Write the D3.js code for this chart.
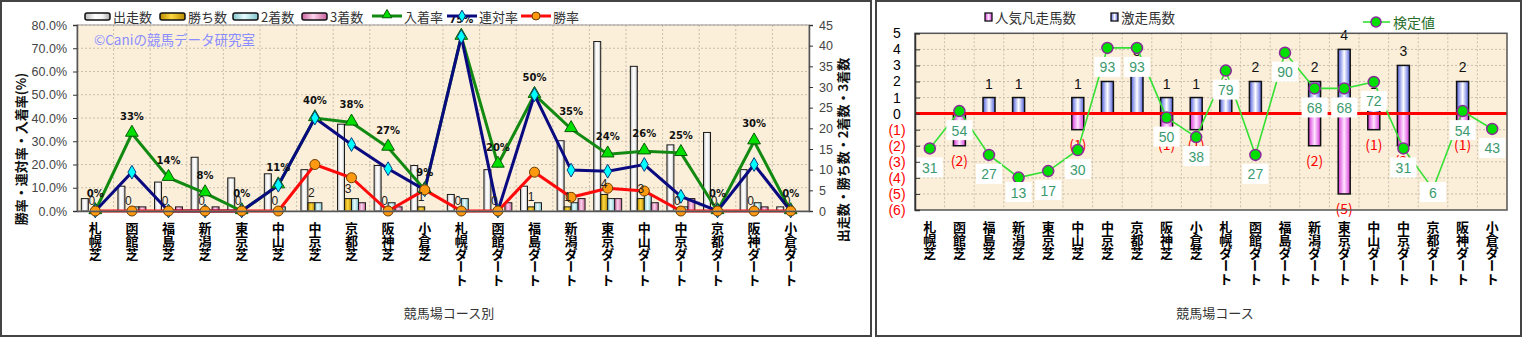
<!DOCTYPE html>
<html><head><meta charset="utf-8">
<script src="https://cdn.jsdelivr.net/npm/d3@7"></script>
<style>
body{margin:0;background:#fff;}
svg{display:block;font-family:"Noto Sans CJK JP","Noto Sans",sans-serif;}
</style>
</head><body>
<svg id="c" width="1523" height="338"></svg>
<script>
// ---------------- data ----------------
const categories = ["札幌芝","函館芝","福島芝","新潟芝","東京芝","中山芝","中京芝","京都芝","阪神芝","小倉芝",
  "札幌ダート","函館ダート","福島ダート","新潟ダート","東京ダート","中山ダート","中京ダート","京都ダート","阪神ダート","小倉ダート"];
const starts  = [3,6,7,13,8,9,10,21,11,11,4,10,6,17,41,35,16,19,10,1];
const wins    = [0,0,0,0,0,0,2,3,0,1,0,0,1,1,4,3,0,0,0,0];
const seconds = [0,1,0,0,0,1,2,3,2,0,3,0,2,2,3,4,1,0,2,0];
const thirds  = [0,1,1,1,0,0,0,2,1,0,0,2,0,3,3,2,3,0,1,0];
const placeRate  = [0,33.3,14.3,7.7,0,11.1,40,38.1,27.3,9.1,75,20,50,35.3,24.4,25.7,25,0,30,0];
const rentaiRate = [0,16.7,0,0,0,11.1,40,28.6,18.2,9.1,75,0,50,17.6,17.1,20,6.3,0,20,0];
const winRate    = [0,0,0,0,0,0,20,14.3,0,9.1,0,0,16.7,5.9,9.8,8.6,0,0,0,0];
const leftTicks  = [0,10,20,30,40,50,60,70,80];
const rightTicks = [0,5,10,15,20,25,30,35,40,45];

const gekisou = [0,0,1,1,0,1,2,3,1,1,1,2,0,2,4,1,3,0,2,0];   // 激走馬数
const bonsou  = [0,2,0,0,0,1,0,0,1,1,0,0,0,2,5,1,2,0,1,0];   // 人気凡走馬数
const kentei  = [31,54,27,13,17,30,93,93,50,38,79,27,90,68,68,72,31,6,54,43]; // 検定値
const countTicks = [5,4,3,2,1,0,-1,-2,-3,-4,-5,-6];
const countTickLabels = ["5","4","3","2","1","0","(1)","(2)","(3)","(4)","(5)","(6)"];

// ---------------- setup ----------------
const svg = d3.select("#c");
const defs = svg.append("defs");
function hgrad(id, stops){
  const g = defs.append("linearGradient").attr("id",id).attr("x1","0").attr("x2","1").attr("y1","0").attr("y2","0");
  stops.forEach(s=>g.append("stop").attr("offset",s[0]).attr("stop-color",s[1]));
}
hgrad("gStart",[[0,"#b8b8b8"],[0.4,"#ffffff"],[0.7,"#f4f4f4"],[1,"#a8a8a8"]]);
hgrad("gWin",[[0,"#b88a00"],[0.45,"#ffd840"],[1,"#b88a00"]]);
hgrad("gSec",[[0,"#80c4cc"],[0.45,"#e8fcff"],[1,"#80c4cc"]]);
hgrad("gThird",[[0,"#c8609c"],[0.45,"#fcd4ec"],[1,"#c8609c"]]);
hgrad("gBlue",[[0,"#5060dc"],[0.5,"#ffffff"],[1,"#5060dc"]]);
hgrad("gPink",[[0,"#d838d8"],[0.5,"#ffe6ff"],[1,"#d838d8"]]);

const BG = "#fbefd9";
const GRID = "#c9bfae";

// vertical (top-to-bottom) label helper: one upright glyph per line
function verticalLabel(g, text, x, top, size){
  const t = g.append("g");
  Array.from(text).forEach((ch,k)=>{
    const base = top + (k+1)*size - 1.5;
    const el = t.append("text").attr("x",x).attr("y",base).attr("text-anchor","middle")
      .attr("font-size",size).attr("font-weight","bold").attr("fill","#000").text(ch);
    if(ch==="ー") el.attr("transform",`rotate(90,${x},${base - size*0.38})`);
  });
}

// panel borders
svg.append("rect").attr("x",1).attr("y",1).attr("width",870).attr("height",335).attr("fill","#fff").attr("stroke","#444").attr("stroke-width",2);
svg.append("rect").attr("x",876).attr("y",1).attr("width",645).attr("height",335).attr("fill","#fff").attr("stroke","#444").attr("stroke-width",2);

// ================= LEFT CHART =================
const L = {x0:77, x1:809, y0:25, y1:211};
const xL = d3.scaleBand().domain(categories).range([L.x0,L.x1]);
const yL = d3.scaleLinear().domain([0,80]).range([L.y1,L.y0]);
const yR = d3.scaleLinear().domain([0,45]).range([L.y1,L.y0]);
const barKeys = ["starts","wins","seconds","thirds"];
const barData = {starts, wins, seconds, thirds};
const barFill = {starts:"url(#gStart)", wins:"url(#gWin)", seconds:"url(#gSec)", thirds:"url(#gThird)"};
const xInner = d3.scaleBand().domain(barKeys).range([0,xL.bandwidth()]).paddingOuter(0.62);

const gl = svg.append("g");
gl.append("rect").attr("x",L.x0).attr("y",L.y0).attr("width",L.x1-L.x0).attr("height",L.y1-L.y0).attr("fill",BG);
gl.append("g").selectAll("line").data(leftTicks.slice(1)).join("line")
  .attr("x1",L.x0).attr("x2",L.x1).attr("y1",d=>yL(d)).attr("y2",d=>yL(d))
  .attr("stroke",GRID).attr("stroke-dasharray","2,2");
gl.append("g").selectAll("line").data(categories.slice(1)).join("line")
  .attr("x1",d=>xL(d)).attr("x2",d=>xL(d)).attr("y1",L.y0).attr("y2",L.y1)
  .attr("stroke",GRID).attr("stroke-dasharray","2,2");
gl.append("text").attr("x",94).attr("y",45).attr("font-size",13.5).attr("fill","#8a8cff").text("©Caniの競馬データ研究室");

barKeys.forEach(k=>{
  gl.append("g").selectAll("rect").data(categories.map((c,i)=>({c,v:barData[k][i]})).filter(d=>d.v>0)).join("rect")
    .attr("x",d=>xL(d.c)+xInner(k))
    .attr("width",xInner.bandwidth())
    .attr("y",d=>yR(d.v))
    .attr("height",d=>L.y1-yR(d.v))
    .attr("fill",barFill[k]).attr("stroke","#1a1a1a").attr("stroke-width",1);
});

const cx = d=>xL(d)+xL.bandwidth()/2;
function drawLine(vals,color){
  const line = d3.line().x((d,i)=>cx(categories[i])).y(d=>yL(d));
  gl.append("path").datum(vals).attr("d",line).attr("fill","none").attr("stroke",color).attr("stroke-width",3);
}
drawLine(placeRate,"#128a12");
drawLine(rentaiRate,"#0a0a80");
drawLine(winRate,"#ff0a0a");
const tri = d3.symbol().type(d3.symbolTriangle).size(70);
const dia = d3.symbol().type(d3.symbolDiamond).size(55);
gl.append("g").selectAll("path").data(placeRate).join("path")
  .attr("d",tri).attr("transform",(d,i)=>`translate(${cx(categories[i])},${yL(d)-1})`)
  .attr("fill","#00e000").attr("stroke","#0a5a0a").attr("stroke-width",1);
gl.append("g").selectAll("path").data(rentaiRate).join("path")
  .attr("d",dia).attr("transform",(d,i)=>`translate(${cx(categories[i])},${yL(d)})`)
  .attr("fill","#00ffff").attr("stroke","#0a3a80").attr("stroke-width",1);
gl.append("g").selectAll("circle").data(winRate).join("circle")
  .attr("cx",(d,i)=>cx(categories[i])).attr("cy",d=>yL(d)).attr("r",5)
  .attr("fill","#ff9a10").attr("stroke","#6a3a00").attr("stroke-width",1);

gl.append("g").selectAll("text").data(placeRate).join("text")
  .attr("x",(d,i)=>cx(categories[i])).attr("y",d=>yL(d)-14)
  .attr("text-anchor","middle").attr("font-size",10).attr("font-weight","bold").attr("fill","#111")
  .attr("font-family","'DejaVu Sans',sans-serif")
  .text(d=>Math.round(d)+"%");
gl.append("g").selectAll("text").data(wins).join("text")
  .attr("x",(d,i)=>xL(categories[i])+xInner("wins")+xInner.bandwidth()/2)
  .attr("y",d=>yR(d)-6)
  .attr("text-anchor","middle").attr("font-size",12).attr("fill","#222")
  .attr("font-family","'Liberation Sans',sans-serif")
  .text(d=>d);

gl.append("rect").attr("x",L.x0).attr("y",L.y0).attr("width",L.x1-L.x0).attr("height",L.y1-L.y0).attr("fill","none").attr("stroke","#999");
const axL = gl.append("g").attr("transform",`translate(${L.x0},0)`)
  .call(d3.axisLeft(yL).tickValues(leftTicks).tickFormat(d=>d.toFixed(1)+"%").tickSize(4).tickPadding(6));
const axR = gl.append("g").attr("transform",`translate(${L.x1},0)`)
  .call(d3.axisRight(yR).tickValues(rightTicks).tickSize(4).tickPadding(6));
const axB = gl.append("g").attr("transform",`translate(0,${L.y1})`)
  .call(d3.axisBottom(xL).tickSize(0).tickFormat(""));
[axL,axR].forEach(a=>{
  a.selectAll("text").attr("font-size",12.5).attr("fill","#444").attr("font-family","'Liberation Sans',sans-serif");
  a.select(".domain").attr("stroke","#555").attr("stroke-width",1.5);
  a.selectAll(".tick line").attr("stroke","#333");
});
axB.select(".domain").attr("stroke","#555").attr("stroke-width",1.5);

const catL = gl.append("g");
categories.forEach(c=>verticalLabel(catL,c,cx(c),221,13));

gl.append("text").attr("transform","translate(26,149) rotate(-90)").attr("text-anchor","middle")
  .attr("font-size",13).attr("font-weight","bold").attr("fill","#111").text("勝率・連対率・入着率(%)");
gl.append("text").attr("transform","translate(848,150) rotate(-90)").attr("text-anchor","middle")
  .attr("font-size",13).attr("font-weight","bold").attr("fill","#111").text("出走数・勝ち数・2着数・3着数");
gl.append("text").attr("x",449).attr("y",318).attr("text-anchor","middle").attr("font-size",13).attr("fill","#333").text("競馬場コース別");

const legItems = [
  {t:"出走数",type:"bar",f:"url(#gStart)",x:85},
  {t:"勝ち数",type:"bar",f:"url(#gWin)",x:160},
  {t:"2着数",type:"bar",f:"url(#gSec)",x:233},
  {t:"3着数",type:"bar",f:"url(#gThird)",x:302},
  {t:"入着率",type:"tri",c:"#128a12",x:372},
  {t:"連対率",type:"dia",c:"#0a0a80",x:447},
  {t:"勝率",type:"cir",c:"#ff0a0a",x:521}
];
const lg = gl.append("g");
legItems.forEach(it=>{
  if(it.type==="bar"){
    lg.append("rect").attr("x",it.x).attr("y",13).attr("width",25).attr("height",7).attr("rx",2)
      .attr("fill",it.f).attr("stroke","#111").attr("stroke-width",1.5);
    lg.append("text").attr("x",it.x+28).attr("y",22).attr("font-size",13).attr("fill","#333").text(it.t);
  } else {
    lg.append("line").attr("x1",it.x).attr("x2",it.x+30).attr("y1",16).attr("y2",16).attr("stroke",it.c).attr("stroke-width",3);
    if(it.type==="tri") lg.append("path").attr("d",d3.symbol().type(d3.symbolTriangle).size(40)).attr("transform",`translate(${it.x+15},15)`).attr("fill","#00e000").attr("stroke","#0a5a0a");
    if(it.type==="dia") lg.append("path").attr("d",d3.symbol().type(d3.symbolDiamond).size(40)).attr("transform",`translate(${it.x+15},16)`).attr("fill","#00ffff").attr("stroke","#0a3a80");
    if(it.type==="cir") lg.append("circle").attr("cx",it.x+15).attr("cy",16).attr("r",4).attr("fill","#ff9a10").attr("stroke","#6a3a00");
    lg.append("text").attr("x",it.x+32).attr("y",22).attr("font-size",13).attr("fill","#333").text(it.t);
  }
});

// ================= RIGHT CHART =================
const R = {x0:915, x1:1507, y0:33.3, y1:210};
const xC = d3.scaleBand().domain(categories).range([R.x0,R.x1]);
const yC = d3.scaleLinear().domain([-6,5]).range([R.y1,R.y0]);
const yK = d3.scaleLinear().domain([-7,102]).range([R.y1,R.y0]);
const ccx = d=>xC(d)+xC.bandwidth()/2;
const gr = svg.append("g");
gr.append("rect").attr("x",R.x0).attr("y",R.y0).attr("width",R.x1-R.x0).attr("height",R.y1-R.y0).attr("fill",BG);
gr.append("g").selectAll("line").data(countTicks.filter(d=>d>-6&&d<5)).join("line")
  .attr("x1",R.x0).attr("x2",R.x1).attr("y1",d=>yC(d)).attr("y2",d=>yC(d))
  .attr("stroke",GRID).attr("stroke-dasharray","2,2");
gr.append("g").selectAll("line").data(categories.slice(1)).join("line")
  .attr("x1",d=>xC(d)).attr("x2",d=>xC(d)).attr("y1",R.y0).attr("y2",R.y1)
  .attr("stroke",GRID).attr("stroke-dasharray","2,2");

const BW = 12;
gr.append("g").selectAll("rect").data(categories.map((c,i)=>({c,v:gekisou[i]})).filter(d=>d.v>0)).join("rect")
  .attr("x",d=>ccx(d.c)-BW/2).attr("width",BW)
  .attr("y",d=>yC(d.v)).attr("height",d=>yC(0)-yC(d.v))
  .attr("fill","url(#gBlue)").attr("stroke","#111").attr("stroke-width",1.5);
gr.append("g").selectAll("rect").data(categories.map((c,i)=>({c,v:bonsou[i]})).filter(d=>d.v>0)).join("rect")
  .attr("x",d=>ccx(d.c)-BW/2).attr("width",BW)
  .attr("y",yC(0)).attr("height",d=>yC(-d.v)-yC(0))
  .attr("fill","url(#gPink)").attr("stroke","#111").attr("stroke-width",1.5);
gr.append("line").attr("x1",R.x0).attr("x2",R.x1).attr("y1",yC(0)).attr("y2",yC(0)).attr("stroke","#ff0000").attr("stroke-width",3);
const gkLab = gr.append("g");
gekisou.forEach((v,i)=>{ if(v>0) gkLab.append("text").attr("x",ccx(categories[i])).attr("y",yC(v)-9)
  .attr("text-anchor","middle").attr("font-size",14).attr("fill","#111").attr("font-family","'Liberation Sans',sans-serif").text(v); });
bonsou.forEach((v,i)=>{ if(v>0) gkLab.append("text").attr("x",ccx(categories[i])).attr("y",yC(-v)+20)
  .attr("text-anchor","middle").attr("font-size",14).attr("fill","#ff0000").text("("+v+")"); });

const kline = d3.line().x((d,i)=>ccx(categories[i])).y(d=>yK(d));
gr.append("path").datum(kentei).attr("d",kline).attr("fill","none").attr("stroke","#33e033").attr("stroke-width",1.6);
gr.append("g").selectAll("circle").data(kentei).join("circle")
  .attr("cx",(d,i)=>ccx(categories[i])).attr("cy",d=>yK(d)).attr("r",5.5)
  .attr("fill","#00e000").attr("stroke","#8a2a9a").attr("stroke-width",1.5);
const kl = gr.append("g").selectAll("g").data(kentei).join("g")
  .attr("transform",(d,i)=>`translate(${ccx(categories[i])},${Math.min(yK(d)+19,192)})`);
kl.append("rect").attr("x",-13).attr("y",-10).attr("width",26).attr("height",20).attr("fill","#fff");
kl.append("text").attr("y",5.5).attr("text-anchor","middle").attr("font-size",14).attr("fill","#3a9a6e")
  .attr("font-family","'Liberation Sans',sans-serif").text(d=>d);

gr.append("rect").attr("x",R.x0).attr("y",R.y0).attr("width",R.x1-R.x0).attr("height",R.y1-R.y0).attr("fill","none").attr("stroke","#555").attr("stroke-width",1.5);
const axC = gr.append("g").attr("transform",`translate(${R.x0},0)`)
  .call(d3.axisLeft(yC).tickValues(countTicks).tickFormat((d,i)=>countTickLabels[i]).tickSize(-5));
axC.select(".domain").attr("stroke","#333").attr("stroke-width",1.5);
axC.selectAll(".tick line").attr("stroke","#333");
axC.selectAll("text").attr("x",-18).attr("text-anchor","middle").attr("font-size",14)
  .attr("font-family","'Liberation Sans',sans-serif")
  .attr("fill",d=>d<0?"#ff0000":"#000");
const catR = gr.append("g");
categories.forEach(c=>verticalLabel(catR,c,ccx(c),220,13));
gr.append("text").attr("x",1215).attr("y",318).attr("text-anchor","middle").attr("font-size",13).attr("fill","#333").text("競馬場コース");

gr.append("rect").attr("x",985).attr("y",13).attr("width",7).attr("height",8).attr("fill","url(#gPink)").attr("stroke","#111").attr("stroke-width",1.3);
gr.append("text").attr("x",995).attr("y",23).attr("font-size",13.5).attr("fill","#333").text("人気凡走馬数");
gr.append("rect").attr("x",1111).attr("y",13).attr("width",7).attr("height",8).attr("fill","url(#gBlue)").attr("stroke","#111").attr("stroke-width",1.3);
gr.append("text").attr("x",1121).attr("y",23).attr("font-size",13.5).attr("fill","#333").text("激走馬数");
gr.append("line").attr("x1",1363).attr("x2",1390).attr("y1",22).attr("y2",22).attr("stroke","#33e033").attr("stroke-width",1.6);
gr.append("circle").attr("cx",1376).attr("cy",22).attr("r",5).attr("fill","#00e000").attr("stroke","#8a2a9a").attr("stroke-width",1.5);
gr.append("text").attr("x",1393).attr("y",28).attr("font-size",14).attr("fill","#2b6e2b").text("検定値");
</script>
</body></html>
